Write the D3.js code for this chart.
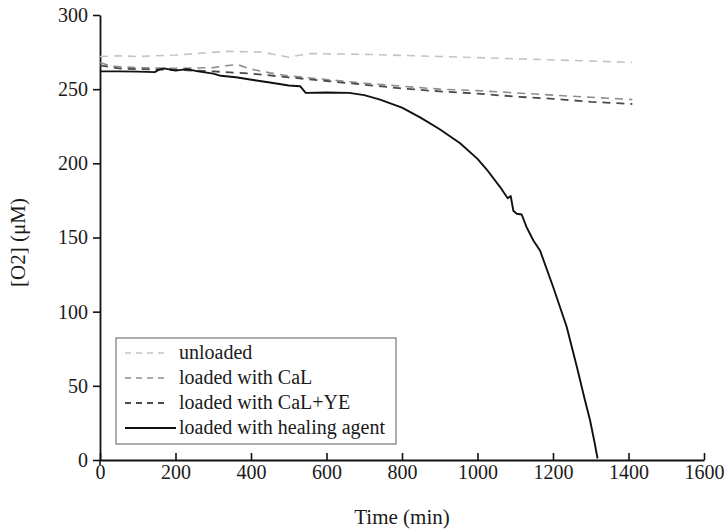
<!DOCTYPE html>
<html lang="en">
<head>
  <meta charset="UTF-8">
  <title>Oxygen consumption</title>
  <style>
    body {
      margin: 0;
      background: #fff;
    }
    svg {
      display: block;
      font-family: "Liberation Serif", "DejaVu Serif", serif;
    }
  </style>
</head>
<body>
  <svg id="chart" width="728" height="531"></svg>

  <script src="https://d3js.org/d3.v7.min.js"></script>
  <script>
    // [time (min), [O2] (uM)]
    const unloaded = [
      [0, 272], [50, 272.5], [100, 272], [200, 273], [280, 274.5], [340, 275.5],
      [430, 275], [470, 273], [500, 271.5], [530, 273], [560, 274], [700, 273.5],
      [900, 272], [1100, 270.5], [1300, 269], [1410, 268]
    ];
    const loadedCaL = [
      [0, 268], [30, 265.5], [100, 264.5], [200, 264], [300, 264.5], [340, 266],
      [365, 266.5], [400, 263.5], [450, 261], [500, 259], [600, 256.5], [700, 254],
      [800, 252], [900, 250], [1000, 249], [1100, 247.5], [1200, 246], [1300, 244.5],
      [1410, 243]
    ];
    const loadedCaLYE = [
      [0, 266], [50, 264], [100, 263.5], [200, 263], [300, 262], [400, 260.5],
      [500, 258], [600, 255.5], [700, 253], [800, 250.5], [900, 248.5], [1000, 247],
      [1100, 245], [1200, 243.5], [1300, 241.5], [1410, 240]
    ];
    const healingAgent = [
      [0, 262], [50, 262], [100, 261.8], [145, 261.5], [155, 263], [170, 264],
      [200, 262.5], [230, 263.5], [260, 262], [300, 260.5], [320, 259], [360, 258],
      [410, 256], [450, 254.5], [500, 252.5], [530, 252], [545, 247.5], [600, 247.8],
      [660, 247.5], [700, 246], [742, 243], [800, 237.5], [848, 231], [900, 223],
      [954, 213.5], [1000, 203], [1024, 196], [1060, 184], [1080, 176.5], [1088, 178],
      [1095, 168], [1104, 166], [1117, 165.5], [1130, 157], [1148, 148], [1166, 141],
      [1200, 117], [1236, 90], [1263, 63], [1285, 40], [1298, 27], [1310, 12], [1318, 1]
    ];

    const xTicks = [0, 200, 400, 600, 800, 1000, 1200, 1400, 1600];
    const yTicks = [0, 50, 100, 150, 200, 250, 300];

    const seriesNames = ["unloaded", "loaded with CaL", "loaded with CaL+YE", "loaded with healing agent"];
    const seriesData = [unloaded, loadedCaL, loadedCaLYE, healingAgent];
    const seriesColors = ["#c4c4c4", "#8e8e8e", "#4a4a4a", "#111"];
    const seriesDash = ["8,6", "8,6", "8,6", null];
    const seriesWidth = [1.6, 1.6, 1.8, 1.9];

    const svg = d3.select("#chart");
    const margin = {left: 100, top: 15, right: 24, bottom: 71};
    const width = 728, height = 531;

    const x = d3.scaleLinear().domain([0, 1600]).range([margin.left, width - margin.right]);
    const y = d3.scaleLinear().domain([0, 300]).range([height - margin.bottom, margin.top]);

    // y axis, ticks outward
    const yAxis = svg.append("g")
      .attr("transform", `translate(${x(0)},0)`)
      .call(d3.axisLeft(y).tickValues(yTicks).tickFormat(d3.format("d"))
        .tickSize(7).tickPadding(5).tickSizeOuter(0));

    // x axis, ticks pointing up into the plot
    const xAxis = svg.append("g")
      .attr("transform", `translate(0,${y(0)})`)
      .call(d3.axisBottom(x).tickValues(xTicks).tickFormat(d3.format("d"))
        .tickSize(-7).tickPadding(17).tickSizeOuter(0));

    [xAxis, yAxis].forEach(g => {
      g.select(".domain").attr("stroke", "#111").attr("stroke-width", 1.8);
      g.selectAll(".tick line").attr("stroke", "#111").attr("stroke-width", 1.6);
      g.selectAll(".tick text")
        .attr("fill", "#1a1a1a")
        .attr("font-size", "20px")
        .attr("font-family", "Liberation Serif, serif");
    });
    xAxis.selectAll(".tick text").attr("dy", "0.1em");
    // small stub of the y axis below the origin
    svg.append("line")
      .attr("x1", x(0)).attr("x2", x(0))
      .attr("y1", y(0)).attr("y2", y(0) + 5)
      .attr("stroke", "#111").attr("stroke-width", 1.6);

    const line = d3.line()
      .x(d => x(d[0]))
      .y(d => y(d[1]));

    seriesData.forEach((data, i) => {
      svg.append("path")
        .datum(data)
        .attr("fill", "none")
        .attr("stroke", seriesColors[i])
        .attr("stroke-width", seriesWidth[i])
        .attr("stroke-dasharray", seriesDash[i])
        .attr("stroke-linejoin", "round")
        .attr("d", line);
    });

    // axis titles
    svg.append("text")
      .attr("x", (x(0) + x(1600)) / 2)
      .attr("y", 524)
      .attr("text-anchor", "middle")
      .attr("font-size", "21px")
      .attr("fill", "#1a1a1a")
      .text("Time (min)");

    svg.append("text")
      .attr("transform", `translate(25,${(y(0) + y(300)) / 2 + 5}) rotate(-90)`)
      .attr("text-anchor", "middle")
      .attr("font-size", "21px")
      .attr("fill", "#1a1a1a")
      .text("[O2] (\u03BCM)");

    // legend
    const legend = svg.append("g").attr("transform", "translate(116,338)");
    legend.append("rect")
      .attr("width", 280).attr("height", 106)
      .attr("fill", "#fff")
      .attr("stroke", "#777").attr("stroke-width", 1.2);

    seriesNames.forEach((name, i) => {
      const ry = 15 + i * 25;
      legend.append("line")
        .attr("x1", 9).attr("x2", seriesDash[i] ? 48 : 60)
        .attr("y1", ry).attr("y2", ry)
        .attr("stroke", seriesColors[i])
        .attr("stroke-width", seriesWidth[i])
        .attr("stroke-dasharray", seriesDash[i] ? "6,5" : null);
      legend.append("text")
        .attr("x", 63).attr("y", ry + 6)
        .attr("font-size", "20px")
        .attr("fill", "#1a1a1a")
        .text(name);
    });
  </script>
</body>
</html>
